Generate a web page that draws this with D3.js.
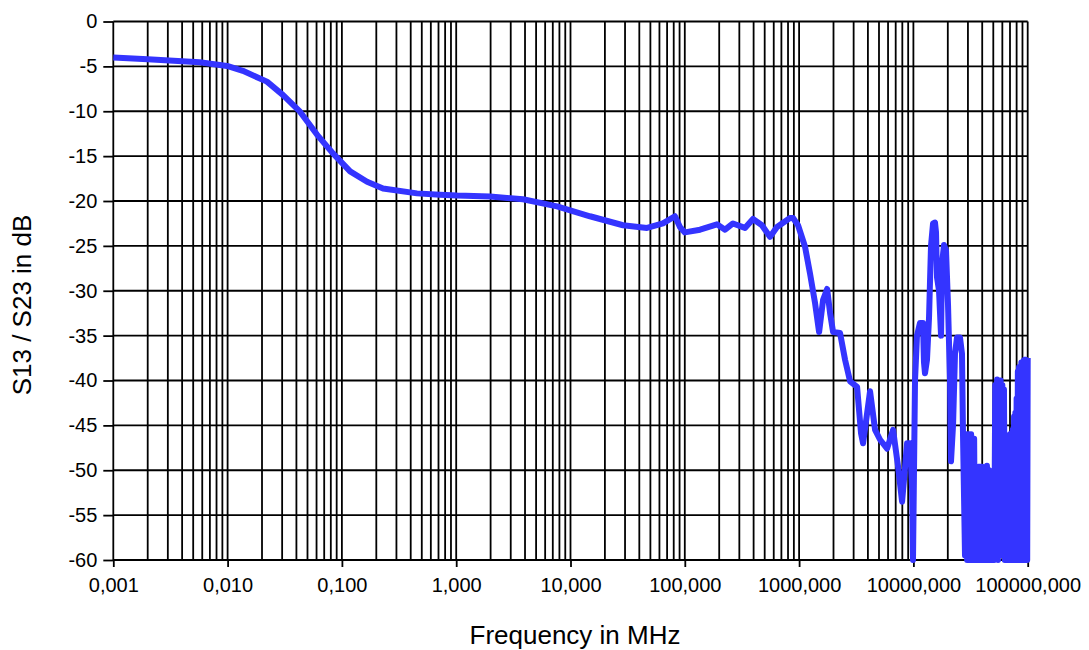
<!DOCTYPE html>
<html>
<head>
<meta charset="utf-8" />
<title>S13 / S23 in dB</title>
<script src="https://cdnjs.cloudflare.com/ajax/libs/d3/7.8.5/d3.min.js"></script>
<style>
	body {
		margin: 0;
		background: #ffffff;
	}
	svg text {
		font-family: "Liberation Sans", Arial, sans-serif;
		fill: #000;
	}
</style>
</head>
<body>
<svg id="chart" width="1089" height="650"></svg>
<script>
// measured transmission, frequency in MHz
const freqs = [
	0.001, 0.002, 0.0057, 0.0099, 0.0136, 0.0221, 0.0306, 0.043, 0.0605, 0.0835,
	0.118, 0.166, 0.229, 0.454, 0.72, 1.02, 1.98, 3.84, 7.62, 14.8,
	28.8, 46.7, 64.4, 82, 90.7, 100, 136, 191, 225, 264,
	336, 395, 473, 556, 641, 832, 885, 979, 1127, 1247,
	1380, 1496, 1622, 1758, 1867, 1983, 2282, 2525, 2793, 3215,
	3484, 3628, 4177, 4621, 5112, 5886, 6640, 7345, 7962, 8807,
	9353, 9732, 9920, 10330, 10750, 11420, 12130, 12380, 12630, 13150,
	13700, 13970, 14260, 14850, 15450, 15770, 16090, 16760, 17450, 17800,
	18530, 19290, 20080, 20900, 21330, 22220, 23120, 24080, 25560, 26610,
	27160, 28280,
	29000, 29500, 30000, 30500, 31000, 31500, 32000, 32500, 33000, 33500,
	34000, 34500, 35000, 35500, 36000, 36500, 37000, 37500, 38000, 38500,
	39000, 39500, 40000,
	41000, 42000, 43000, 44000, 45000, 46000, 47000, 48000,
	49000, 50000, 51000, 52000, 53000, 54000, 55000, 56000, 57000, 58000,
	59000, 60000, 61000, 62000, 63000, 64000, 65000, 66000, 67000, 68000,
	69000, 70000, 71000, 72000, 73000, 74000, 75000, 76000, 77000, 78000,
	79000, 80000, 81000, 82000, 83000, 84000, 85000, 86000, 87000, 88000,
	89000, 90000, 91000, 92000, 93000, 94000, 95000, 96000, 97000, 98000,
	99000, 100000
];
const s13 = [
	-4.0, -4.2, -4.55, -4.95, -5.5, -6.7, -8.2, -10.05, -12.6, -14.7,
	-16.7, -17.85, -18.6, -19.15, -19.3, -19.4, -19.5, -19.8, -20.6, -21.7,
	-22.7, -23.0, -22.5, -21.7, -22.9, -23.5, -23.2, -22.6, -23.2, -22.5,
	-23.0, -22.0, -22.7, -24.0, -22.9, -21.9, -21.9, -22.7, -25.1, -28.1,
	-31.4, -34.6, -31.0, -29.8, -32.5, -34.6, -34.7, -37.7, -40.1, -40.7,
	-45.9, -47.0, -41.2, -45.5, -46.6, -47.6, -45.5, -49.6, -53.5, -47.0,
	-47.0, -52, -60, -40, -35, -33.6, -33.6, -38, -39.2, -37.7,
	-33, -29, -25, -22.5, -22.4, -23.5, -28.5, -30, -35, -27,
	-24.9, -25.5, -31.5, -40, -49, -45, -37, -35.2, -35.2, -37,
	-46, -59.5,
	-46, -60, -46, -60, -46, -60, -46, -60, -46.5, -60,
	-46.5, -60, -57, -60, -50, -60, -49.6, -60, -49.6, -59.5,
	-49.6, -60, -49.6,
	-60, -49.8, -60, -49.5, -60, -50, -60, -50.7,
	-60, -51, -60, -40.5, -59, -39.9, -60, -40, -59.5, -40,
	-57.5, -40.5, -57, -41, -60, -48.5, -60, -48.5, -60, -48,
	-60, -46, -60, -45.9, -60, -45.5, -60, -44, -60, -43.6,
	-60, -42, -60, -39, -60, -38.5, -60, -38.5, -60, -38,
	-59, -38, -60, -37.8, -60, -37.7, -60, -37.7, -60, -38,
	-60, -37.5
];
const yTicks = [0, -5, -10, -15, -20, -25, -30, -35, -40, -45, -50, -55, -60];
const xTicks = [0.001, 0.01, 0.1, 1, 10, 100, 1000, 10000, 100000];
const xTitle = "Frequency in MHz";
const yTitle = "S13 / S23 in dB";

const svg = d3.select("#chart");
const plotLeft = 113.3, plotRight = 1027.7, plotTop = 21.5, plotBottom = 560;

const x = d3.scaleLog().domain([0.001, 100000]).range([plotLeft, plotRight]);
const y = d3.scaleLinear().domain([-60, 0]).range([plotBottom, plotTop]);

const fmt = v => d3.format(".3f")(v).replace(".", ",");

// minor + major vertical grid
const grid = svg.append("g").attr("stroke", "#000").attr("stroke-width", 1.8);
grid.selectAll("line.v")
	.data(x.ticks())
	.enter()
	.append("line")
	.attr("class", "v")
	.attr("x1", d => x(d)).attr("x2", d => x(d))
	.attr("y1", plotTop).attr("y2", plotBottom);

// horizontal grid
grid.selectAll("line.h")
	.data(yTicks)
	.enter()
	.append("line")
	.attr("class", "h")
	.attr("x1", plotLeft).attr("x2", plotRight)
	.attr("y1", d => y(d)).attr("y2", d => y(d));

// y axis labels
const yAxis = svg.append("g")
	.attr("transform", `translate(${plotLeft},0)`)
	.call(d3.axisLeft(y).tickValues(yTicks).tickSize(10).tickPadding(6).tickFormat(d => d));
yAxis.select(".domain").remove();
yAxis.selectAll("line").attr("stroke", "#000").attr("stroke-width", 1.8);
yAxis.selectAll("text").attr("font-size", 20).attr("font-family", "Liberation Sans, Arial, sans-serif");

// x axis labels
const xAxis = svg.append("g")
	.attr("transform", `translate(0,${plotBottom})`)
	.call(d3.axisBottom(x).tickValues(xTicks).tickSize(7).tickPadding(11).tickFormat(fmt));
xAxis.select(".domain").remove();
xAxis.selectAll("line").attr("stroke", "#000").attr("stroke-width", 1.8);
xAxis.selectAll("text").attr("font-size", 20).attr("font-family", "Liberation Sans, Arial, sans-serif");

// the curve
const line = d3.line()
	.x((d, i) => x(freqs[i]))
	.y(d => y(d));
svg.append("path")
	.datum(s13)
	.attr("d", line)
	.attr("fill", "none")
	.attr("stroke", "#3434ff")
	.attr("stroke-width", 6)
	.attr("stroke-linejoin", "round");

// titles
svg.append("text")
	.attr("x", 575)
	.attr("y", 644)
	.attr("text-anchor", "middle")
	.attr("font-size", 26)
	.text(xTitle);
svg.append("text")
	.attr("transform", "translate(31,305) rotate(-90)")
	.attr("text-anchor", "middle")
	.attr("font-size", 26)
	.text(yTitle);
</script>
</body>
</html>
